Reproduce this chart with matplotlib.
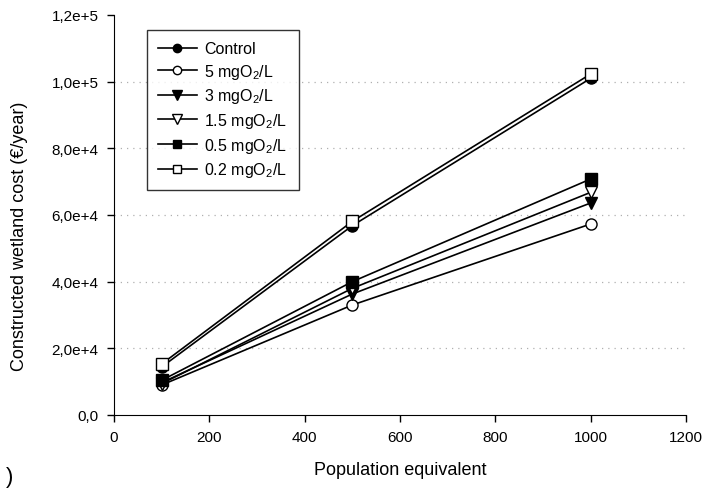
import matplotlib
matplotlib.use("Agg")
import matplotlib.pyplot as plt

plt.rcParams['font.family'] = ['Liberation Sans', 'DejaVu Sans']
plt.rcParams['mathtext.fontset'] = 'custom'
plt.rcParams['mathtext.rm'] = 'Liberation Sans'
plt.rcParams['mathtext.it'] = 'Liberation Sans:italic'
plt.rcParams['mathtext.default'] = 'regular'

x = [100, 500, 1000]
control = [14400, 56800, 101000]
o5 = [9000, 33000, 57300]
o3 = [9700, 36300, 63600]
o15 = [9400, 38000, 66800]
o05 = [10400, 40000, 70800]
o02 = [15300, 58100, 102300]

labels = ["Control", "5 mgO$_2$/L", "3 mgO$_2$/L", "1.5 mgO$_2$/L",
          "0.5 mgO$_2$/L", "0.2 mgO$_2$/L"]
series = [control, o5, o3, o15, o05, o02]
markers = ['o', 'o', 'v', 'v', 's', 's']
fills = ['black', 'white', 'black', 'white', 'black', 'white']
sizes = [8, 8, 9, 9, 8, 8]

yticks = [0, 20000, 40000, 60000, 80000, 100000, 120000]
yticklabels = ["0,0", "2,0e+4", "4,0e+4", "6,0e+4", "8,0e+4", "1,0e+5", "1,2e+5"]
xticks = [0, 200, 400, 600, 800, 1000, 1200]

fig = plt.figure(figsize=(7.11, 4.89), dpi=100)
ax = fig.add_axes([114/711, 1 - 416/489, 572/711, 400/489])

for yv in yticks[1:-1]:
    ax.axhline(yv, color='#b0b0b0', linestyle=(0, (1, 4)), linewidth=0.9, zorder=0)

for ys, lab, m, fc, s in zip(series, labels, markers, fills, sizes):
    ax.plot(x, ys, color='black', linewidth=1.2, marker=m, markersize=s,
            markerfacecolor=fc, markeredgecolor='black', markeredgewidth=1.0,
            label=lab, zorder=3)

ax.set_xlim(0, 1200)
ax.set_ylim(0, 120000)
ax.set_xticks(xticks)
ax.set_xticklabels([str(v) for v in xticks])
ax.set_yticks(yticks)
ax.set_yticklabels(yticklabels)
ax.spines['top'].set_visible(False)
ax.spines['right'].set_visible(False)
ax.tick_params(direction='out', length=5, width=1, labelsize=11, pad=6)
ax.set_xlabel("Population equivalent", fontsize=13)
ax.xaxis.set_label_coords(0.5, -(462 - 416) / 400)
ax.set_ylabel("Constructed wetland cost (€/year)", fontsize=13)
ax.yaxis.set_label_coords(-(114 - 28) / 572, (416 - 236) / 400)

leg = ax.legend(loc='upper left', bbox_to_anchor=(33/572, 1 - 15/400),
                frameon=True, fancybox=False, edgecolor='black', fontsize=11.5,
                handlelength=2.4, borderpad=0.7, labelspacing=0.35,
                handletextpad=0.5, borderaxespad=0, markerscale=0.75)
leg.get_frame().set_linewidth(1.0)

fig.text(6/711, 1 - 478/489, ")", fontsize=16, va='center', ha='left')

fig.savefig("out.png", dpi=100)
